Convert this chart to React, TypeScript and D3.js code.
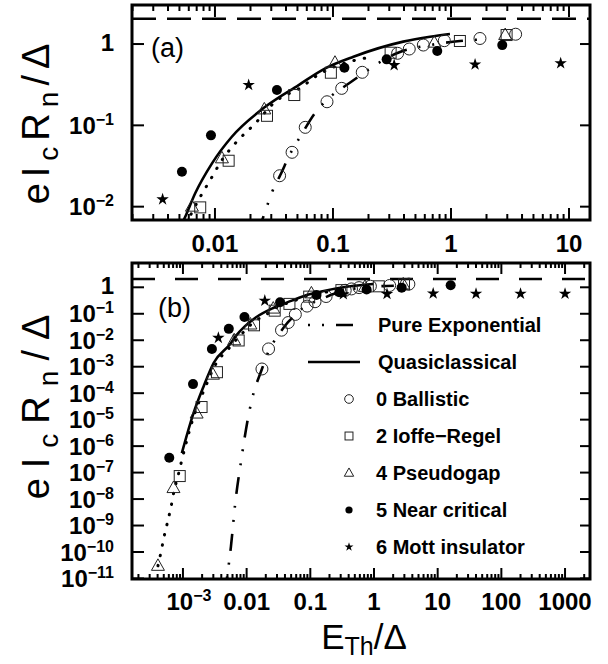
import React, { useEffect, useRef } from "react";
import * as d3 from "d3";

type Pt = [number, number];

// ---- data (E_Th/Δ, eIcRn/Δ) ----
const ballistic: Pt[] = [
  [0.0174, 8.2e-4], [0.0221, 4.7e-3], [0.0353, 0.024], [0.045, 0.0466], [0.0582, 0.0945],
  [0.089, 0.195], [0.1186, 0.285], [0.177, 0.449], [0.353, 0.769], [0.443, 0.868],
  [0.583, 0.972], [0.878, 1.1], [1.76, 1.17], [3.53, 1.32],
];
const ioffeRegel: Pt[] = [
  [8.9e-4, 7.4e-8], [0.00196, 3e-5], [0.00342, 6.2e-4], [0.0075, 0.0098], [0.01306, 0.0367],
  [0.0276, 0.131], [0.047, 0.236], [0.096, 0.444], [0.308, 0.782], [1.19, 1.09], [2.96, 1.29],
];
const pseudogap: Pt[] = [
  [4.05e-4, 3e-11], [7.1e-4, 2.6e-8], [0.00164, 1.7e-5], [0.00296, 5e-4], [0.00638, 0.01],
  [0.01146, 0.0393], [0.0262, 0.157], [0.104, 0.589], [0.722, 1.04], [2.88, 1.29],
];
const nearCritical: Pt[] = [
  [6.1e-4, 3.65e-7], [0.00144, 2.2e-4], [0.00285, 0.00467], [0.00525, 0.0269], [0.00925, 0.0753],
  [0.0335, 0.272], [0.125, 0.511], [0.285, 0.648], [0.765, 0.82], [2.72, 0.97], [16, 1.19],
];
const mottInsulator: Pt[] = [
  [0.0036, 0.0123], [0.0193, 0.313], [0.33, 0.55], [1.6, 0.56], [8.5, 0.58],
  [40, 0.57], [200, 0.57], [1000, 0.57],
];

// theory curves
const quasiclassical: Pt[] = [
  [9.6e-4, 5.4e-7], [1.47e-3, 1.8e-5], [2.11e-3, 1.8e-4], [3.03e-3, 1.38e-3], [0.0056, 0.0075],
  [0.0068, 0.0146], [0.00944, 0.0341], [0.0139, 0.0724], [0.0267, 0.169], [0.0512, 0.313],
  [0.086, 0.502], [0.149, 0.698], [0.394, 1.07], [0.664, 1.23], [0.98, 1.33],
];
const dottedCurve: Pt[] = [
  [4.05e-4, 3e-11], [4.56e-4, 1.1e-10], [5.08e-4, 4e-10], [5.75e-4, 1.4e-9], [6.5e-4, 5.1e-9],
  [7.3e-4, 2.2e-8], [8.26e-4, 6.6e-8], [9.4e-4, 2.4e-7], [1.5e-3, 1.5e-5], [2.2e-3, 1.5e-4],
  [3.3e-3, 1.3e-3], [5.3e-3, 5e-3], [0.0075, 0.0132], [0.0091, 0.0212], [0.01146, 0.0374],
  [0.01486, 0.0601], [0.022, 0.106], [0.0324, 0.195], [0.0546, 0.298], [0.0708, 0.396],
  [0.157, 0.636], [0.206, 0.686],
];
const pureExponential: Pt[] = [
  [4.9e-3, 1e-11], [5.67e-3, 1.6e-10], [6.62e-3, 6.9e-9], [8.23e-3, 3e-7], [0.01074, 1.5e-5],
  [0.0121, 5.7e-5], [0.0174, 8.2e-4], [0.0225, 4.2e-3], [0.0265, 0.0085], [0.0304, 0.015],
  [0.0358, 0.0245], [0.0443, 0.0473], [0.0528, 0.0724], [0.07, 0.14], [0.092, 0.215],
  [0.137, 0.329], [0.37, 0.8], [0.664, 0.97], [1.19, 1.09], [2.05, 1.15],
];
const gapLevel = 2.04; // dashed horizontal line

// ticks
const xTicksA = [0.01, 0.1, 1, 10];
const xLabelsA = ["0.01", "0.1", "1", "10"];
const yExpA = [0, -1, -2];
const xTicksB = [1e-3, 0.01, 0.1, 1, 10, 100, 1000];
const xLabelsB = ["10^-3", "0.01", "0.1", "1", "10", "100", "1000"];
const yExpB = [0, -1, -2, -3, -4, -5, -6, -7, -8, -9, -10, -11];

const legendItems = [
  { kind: "circle", label: "0 Ballistic" },
  { kind: "square", label: "2 Ioffe\u2212Regel" },
  { kind: "triangle", label: "4 Pseudogap" },
  { kind: "dot", label: "5 Near critical" },
  { kind: "star", label: "6 Mott insulator" },
];

const FONT = "'Liberation Sans', Arial, Helvetica, sans-serif";
const DASHDOT = "2 12 2 12 17 12";
const DOTTED = "0.5 10";

function drawMarker(g: any, kind: string, cx: number, cy: number, s = 1) {
  if (kind === "circle") {
    g.append("circle").attr("cx", cx).attr("cy", cy).attr("r", 6 * s)
      .attr("fill", "none").attr("stroke", "#222").attr("stroke-width", 1);
  } else if (kind === "square") {
    const h = 5.5 * s;
    g.append("rect").attr("x", cx - h).attr("y", cy - h).attr("width", 2 * h).attr("height", 2 * h)
      .attr("fill", "none").attr("stroke", "#222").attr("stroke-width", 1);
  } else if (kind === "triangle") {
    g.append("path")
      .attr("d", `M${cx},${cy - 7 * s}L${cx + 6.5 * s},${cy + 4.5 * s}L${cx - 6.5 * s},${cy + 4.5 * s}Z`)
      .attr("fill", "none").attr("stroke", "#222").attr("stroke-width", 1);
  } else if (kind === "dot") {
    g.append("circle").attr("cx", cx).attr("cy", cy).attr("r", 5 * s).attr("fill", "#000");
  } else if (kind === "star") {
    g.append("path")
      .attr("d", d3.symbol(d3.symbolStar, 48 * s * s)())
      .attr("transform", `translate(${cx},${cy})`)
      .attr("fill", "#000");
  }
}

// superscript label like 10^-3
function powLabel(sel: any, text: string) {
  const m = text.match(/^10\^(-?\d+)$/);
  if (!m) {
    sel.text(text);
    return;
  }
  sel.append("tspan").text("10");
  sel.append("tspan").attr("dy", -9).attr("font-size", 16).text(m[1].replace("-", "\u2212"));
}

function drawPanel(svg: any, o: any) {
  const { box, xDomain, yDomain, id } = o;
  const x = d3.scaleLog().domain(xDomain).range([box.left, box.right]);
  const y = d3.scaleLog().domain(yDomain).range([box.bottom, box.top]);

  svg.append("clipPath").attr("id", id)
    .append("rect").attr("x", box.left).attr("y", box.top)
    .attr("width", box.right - box.left).attr("height", box.bottom - box.top);

  const plot = svg.append("g").attr("clip-path", `url(#${id})`);

  // dashed gap line
  plot.append("line")
    .attr("x1", box.left).attr("x2", box.right)
    .attr("y1", y(gapLevel)).attr("y2", y(gapLevel))
    .attr("stroke", "#000").attr("stroke-width", 2.5)
    .attr("stroke-dasharray", o.gapDash);

  const line = d3.line<Pt>().x((d) => x(d[0])).y((d) => y(d[1])).curve(d3.curveMonotoneX);

  plot.append("path").attr("d", line(dottedCurve)).attr("fill", "none")
    .attr("stroke", "#000").attr("stroke-width", 3).attr("stroke-linecap", "round")
    .attr("stroke-dasharray", DOTTED);
  plot.append("path").attr("d", line(quasiclassical)).attr("fill", "none")
    .attr("stroke", "#000").attr("stroke-width", 2.6);
  plot.append("path").attr("d", line(pureExponential)).attr("fill", "none")
    .attr("stroke", "#000").attr("stroke-width", 2.6)
    .attr("stroke-dasharray", DASHDOT);

  // points
  const pts = svg.append("g");
  const inside = (d: Pt) =>
    d[0] > xDomain[0] && d[0] < xDomain[1] * 0.97 && d[1] > yDomain[0] * 1.05 && d[1] < yDomain[1];
  const series: [string, Pt[]][] = [
    ["circle", ballistic], ["square", ioffeRegel], ["triangle", pseudogap],
    ["dot", nearCritical], ["star", mottInsulator],
  ];
  series.forEach(([kind, data]) => {
    data.filter(inside).forEach((d) => drawMarker(pts, kind, x(d[0]), y(d[1])));
  });

  // ticks
  const ax = svg.append("g").attr("stroke", "#000").attr("stroke-width", 2);
  const lo = Math.floor(Math.log10(xDomain[0]));
  const hi = Math.ceil(Math.log10(xDomain[1]));
  for (let e = lo; e <= hi; e++) {
    for (let k = 1; k <= 9; k++) {
      const v = k * 10 ** e;
      if (v < xDomain[0] || v > xDomain[1]) continue;
      const len = k === 1 ? o.xMajor : o.xMinor;
      const px = x(v);
      ax.append("line").attr("x1", px).attr("x2", px).attr("y1", box.bottom).attr("y2", box.bottom - len);
      ax.append("line").attr("x1", px).attr("x2", px).attr("y1", box.top).attr("y2", box.top + len);
    }
  }
  o.yExp.forEach((e: number) => {
    const py = y(10 ** e);
    ax.append("line").attr("x1", box.left).attr("x2", box.left + 12).attr("y1", py).attr("y2", py);
    ax.append("line").attr("x1", box.right).attr("x2", box.right - 10).attr("y1", py).attr("y2", py);
  });

  // frame
  svg.append("rect")
    .attr("x", box.left).attr("y", box.top)
    .attr("width", box.right - box.left).attr("height", box.bottom - box.top)
    .attr("fill", "none").attr("stroke", "#000").attr("stroke-width", 3);

  // tick labels
  const lab = svg.append("g").attr("font-family", FONT).attr("font-weight", "bold")
    .attr("font-size", 24).attr("fill", "#000");
  o.xTicks.forEach((v: number, i: number) => {
    const t = lab.append("text").attr("x", x(v) + (o.xLabels[i].includes("^") ? 6 : 0))
      .attr("y", o.xLabelY).attr("text-anchor", "middle");
    powLabel(t, o.xLabels[i]);
  });
  o.yExp.forEach((e: number) => {
    const t = lab.append("text").attr("x", 114)
      .attr("y", y(10 ** e) + (e === 0 ? 6.5 : 8.5)).attr("text-anchor", "end");
    powLabel(t, e === 0 ? "1" : `10^${e}`);
  });

  // panel tag
  svg.append("text").attr("x", o.tagX).attr("y", o.tagY).attr("font-family", FONT)
    .attr("font-size", 27).text(o.tag);

  // y title
  const yt = svg.append("text")
    .attr("transform", `translate(${o.titleX},${o.titleY}) rotate(-90)`)
    .attr("text-anchor", "middle").attr("font-family", FONT).attr("font-size", 38)
    .attr("letter-spacing", o.titleSpacing);
  yt.append("tspan").text("eI");
  yt.append("tspan").attr("dy", 9).attr("font-size", 28).text("c");
  yt.append("tspan").attr("dy", -9).text("R");
  yt.append("tspan").attr("dy", 9).attr("font-size", 28).text("n");
  yt.append("tspan").attr("dy", -9).text("/\u0394");

  return { x, y };
}

const App = () => {
  const svgRef = useRef<SVGSVGElement>(null);

  useEffect(() => {
    const svg = d3.select(svgRef.current);
    svg.selectAll("*").remove();

    drawPanel(svg, {
      id: "clipA",
      box: { left: 132, right: 590, top: 5, bottom: 220 },
      xDomain: [10 ** -2.703, 10 ** 1.178],
      yDomain: [10 ** -2.164, 10 ** 0.48],
      xTicks: xTicksA, xLabels: xLabelsA, yExp: yExpA,
      xMajor: 12, xMinor: 6, xLabelY: 252,
      gapDash: "24 11",
      tag: "(a)", tagX: 151, tagY: 57,
      titleX: 49, titleY: 121, titleSpacing: 6,
    });

    drawPanel(svg, {
      id: "clipB",
      box: { left: 132, right: 590, top: 263, bottom: 579 },
      xDomain: [10 ** -3.8, 10 ** 3.392],
      yDomain: [10 ** -11.02, 10 ** 0.918],
      xTicks: xTicksB, xLabels: xLabelsB, yExp: yExpB,
      xMajor: 11, xMinor: 5, xLabelY: 610,
      gapDash: "23 20",
      tag: "(b)", tagX: 158, tagY: 317,
      titleX: 49, titleY: 402, titleSpacing: 10,
    });

    // legend (panel b)
    const leg = svg.append("g").attr("font-family", FONT).attr("font-weight", "bold").attr("font-size", 20);
    const rowY = (i: number) => 325 + 37 * i;
    svg.append("line").attr("x1", 308).attr("x2", 356).attr("y1", rowY(0)).attr("y2", rowY(0))
      .attr("stroke", "#000").attr("stroke-width", 2.6).attr("stroke-dasharray", DASHDOT);
    svg.append("line").attr("x1", 308).attr("x2", 360).attr("y1", rowY(1)).attr("y2", rowY(1))
      .attr("stroke", "#000").attr("stroke-width", 2.6);
    leg.append("text").attr("x", 378).attr("y", rowY(0) + 7).text("Pure Exponential");
    leg.append("text").attr("x", 378).attr("y", rowY(1) + 7).text("Quasiclassical");
    legendItems.forEach((it, i) => {
      drawMarker(svg, it.kind, 349, rowY(i + 2), 0.72);
      leg.append("text").attr("x", 376).attr("y", rowY(i + 2) + 7).text(it.label);
    });

    // x title
    const xt = svg.append("text").attr("x", 364).attr("y", 649).attr("text-anchor", "middle")
      .attr("font-family", FONT).attr("font-size", 35);
    xt.append("tspan").text("E");
    xt.append("tspan").attr("dy", 6).attr("font-size", 25).text("Th");
    xt.append("tspan").attr("dy", -6).text("/\u0394");
  }, []);

  return (
    <svg
      ref={svgRef}
      width={608}
      height={664}
      style={{ position: "absolute", left: 0, top: 0, background: "#fff" }}
    />
  );
};

export default App;
